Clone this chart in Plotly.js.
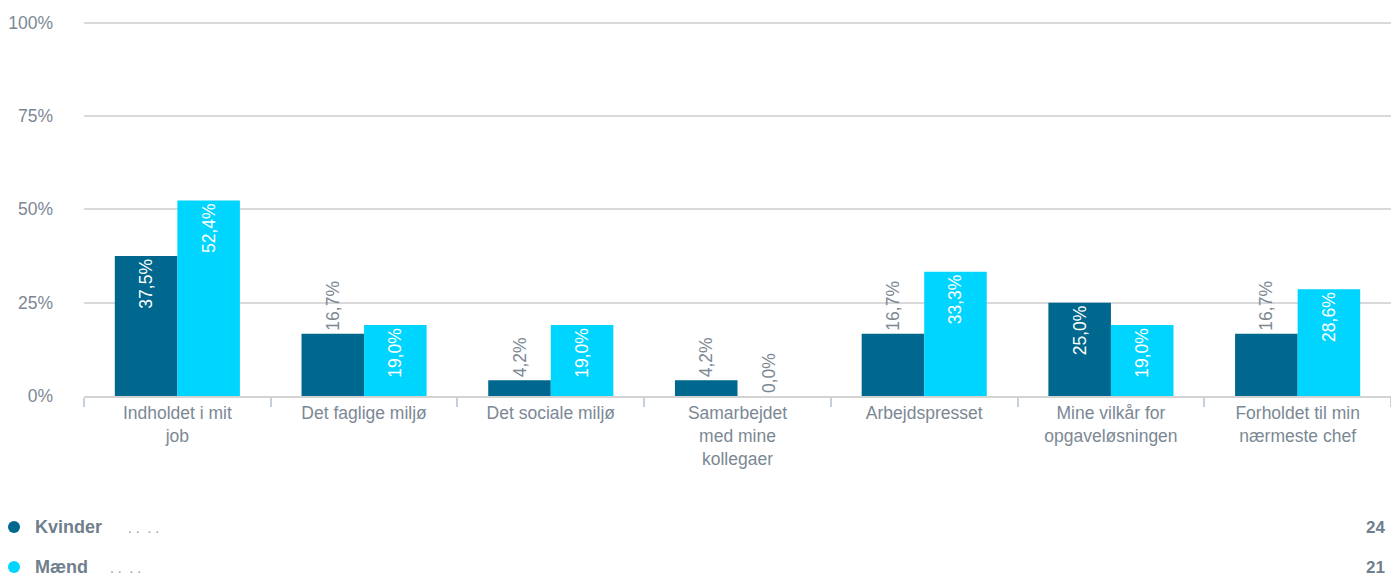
<!DOCTYPE html>
<html><head><meta charset="utf-8">
<script src="https://cdn.plot.ly/plotly-3.0.1.min.js"></script>
<style>html,body{margin:0;padding:0;background:#fff;}#chart{width:1391px;height:576px;}</style>
</head><body><div id="chart"></div>
<script>
const categories = ["Indholdet i mit<br>job","Det faglige miljø","Det sociale miljø","Samarbejdet<br>med mine<br>kollegaer","Arbejdspresset","Mine vilkår for<br>opgaveløsningen","Forholdet til min<br>nærmeste chef"];
const seriesNames = ["Kvinder","Mænd"];
const kvinder = [37.5,16.7,4.2,4.2,16.7,25.0,16.7];
const maend = [52.4,19.0,19.0,0.0,33.3,19.0,28.6];
const counts = [24,21];
const colors = ["#00678e","#00d5ff"];
const yTicks = [0,25,50,75,100];

const kvPos = kvinder.map((v,i)=> (i===0||i===5) ? 'inside' : 'outside');
const maPos = maend.map(v => v >= 18 ? 'inside' : 'outside');
const FONT = 'Liberation Sans, Arial, sans-serif';

function mk(name, vals, color, positions){
  return {type:'bar', name, x:categories, y:vals, marker:{color},
    texttemplate:'%{y:.1f}%', textposition:positions,
    textangle:-90, insidetextanchor:'end', constraintext:'none',
    insidetextfont:{color:'#ffffff',size:17.5,family:FONT},
    outsidetextfont:{color:'#7b8894',size:17.5,family:FONT},
    cliponaxis:false, hoverinfo:'none'};
}
const data = [mk(seriesNames[0],kvinder,colors[0],kvPos), mk(seriesNames[1],maend,colors[1],maPos)];

const layout = {
  width:1391, height:576,
  margin:{l:84,r:0,t:19,b:180},
  separators:', ',
  showlegend:false,
  barmode:'group', bargap:0.33, bargroupgap:0,
  paper_bgcolor:'#fff', plot_bgcolor:'#fff',
  font:{family:FONT, color:'#7b8894', size:17.5},
  xaxis:{tickson:'boundaries', ticks:'outside', ticklen:9, tickcolor:'#c5d0da', tickwidth:2,
    showline:true, linecolor:'#d3d3d3', linewidth:2, tickfont:{size:17.5,color:'#7b8894'}, fixedrange:true},
  yaxis:{range:[0,101], tickvals:yTicks, ticktext:yTicks.map(v=>v+'%'), showgrid:true, gridcolor:'#d9d9d9', gridwidth:2,
    zeroline:false, ticks:'', ticklabelstandoff:30, tickfont:{size:17.5,color:'#7b8894'}, fixedrange:true},
  annotations:[], shapes:[]
};
const plotH = 576-19-180;
function py(px){ return (576-180-px)/plotH; }
function pxx(px){ return (px-84)/(1391-84); }
const rowsY = [527,567];
const dotsX = [126,108];
seriesNames.forEach((n,i)=>{
  const y = rowsY[i];
  layout.shapes.push({type:'circle', xref:'paper', yref:'paper', x0:pxx(8), x1:pxx(20), y0:py(y+6), y1:py(y-6), fillcolor:colors[i], line:{width:0}});
  layout.annotations.push({xref:'paper',yref:'paper',x:pxx(33),y:py(y),xanchor:'left',yanchor:'middle',showarrow:false,
    text:'<b>'+n+'</b>', font:{size:18,color:'#6f808c'}});
  layout.annotations.push({xref:'paper',yref:'paper',x:pxx(dotsX[i]),y:py(y+1),xanchor:'left',yanchor:'middle',showarrow:false,
    text:'. .  . .', font:{size:14,color:'#8a98a3'}});
  layout.annotations.push({xref:'paper',yref:'paper',x:pxx(1387),y:py(y),xanchor:'right',yanchor:'middle',showarrow:false,
    text:'<b>'+counts[i]+'</b>', font:{size:17,color:'#6f808c'}});
});
Plotly.newPlot('chart', data, layout, {displayModeBar:false, staticPlot:true});
</script></body></html>
